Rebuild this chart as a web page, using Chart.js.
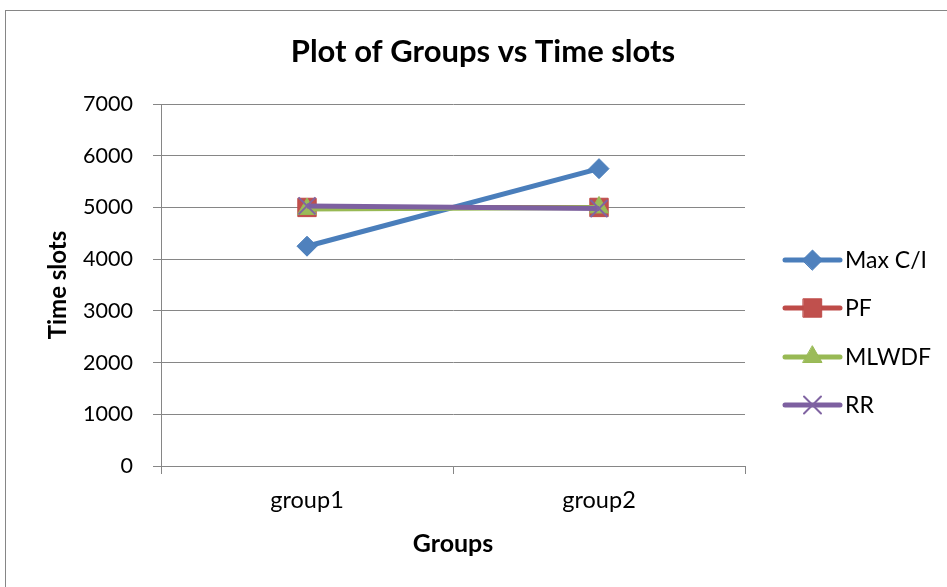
<!DOCTYPE html>
<html lang="en">
<head>
<meta charset="UTF-8">
<title>Plot of Groups vs Time slots</title>
<script src="https://cdn.jsdelivr.net/npm/chart.js"></script>
<style>
    body {
        margin: 0;
        background: #ffffff;
        overflow: hidden;
    }
    .frame {
        position: absolute;
        left: 5px;
        top: 10px;
        width: 1000px;
        height: 1000px;
        border-left: 1px solid #868686;
        border-top: 1px solid #868686;
    }
    #chart {
        position: absolute;
        left: 0;
        top: 0;
    }
</style>
</head>
<body>
<div class="frame"></div>
<canvas id="chart" width="947" height="587"></canvas>
<script>
    const groups = ['group1', 'group2'];
    const maxCI = [4250, 5750];
    const pf = [5000, 5000];
    const mlwdf = [4970, 5000];
    const rr = [5030, 4980];
    const yTicks = [0, 1000, 2000, 3000, 4000, 5000, 6000, 7000];

    const FONT = 'Lato, "Open Sans", sans-serif';

    const series = [
        { label: 'Max C/I', data: maxCI, line: '#4A7EBB', fill: '#4F81BD', style: 'rectRot', radius: 10, bw: 1 },
        { label: 'PF', data: pf, line: '#BE4B48', fill: '#C0504D', style: 'rect', radius: 13, bw: 1 },
        { label: 'MLWDF', data: mlwdf, line: '#98B954', fill: '#9BBB59', style: 'triangle', radius: 11, bw: 1 },
        { label: 'RR', data: rr, line: '#7D60A0', fill: '#8064A2', style: 'crossRot', radius: 12, bw: 2 }
    ];

    // chart heading, centred over the whole frame rather than the plot
    const heading = {
        id: 'heading',
        afterDraw(chart) {
            const ctx = chart.ctx;
            ctx.save();
            ctx.fillStyle = '#000';
            ctx.font = 'bold 31px ' + FONT;
            ctx.textAlign = 'center';
            ctx.textBaseline = 'middle';
            ctx.fillText('Plot of Groups vs Time slots', 483, 52);
            ctx.restore();
        }
    };

    // legend drawn by hand: line stub + marker + name, stacked on the right
    const sideLegend = {
        id: 'sideLegend',
        afterDraw(chart) {
            const ctx = chart.ctx;
            const x0 = 785, x1 = 840, ys = [260, 308, 357, 405];
            series.forEach((s, i) => {
                const y = ys[i];
                ctx.save();
                ctx.strokeStyle = s.line;
                ctx.lineWidth = 5;
                ctx.lineCap = 'round';
                ctx.beginPath();
                ctx.moveTo(x0, y);
                ctx.lineTo(x1, y);
                ctx.stroke();
                ctx.fillStyle = s.fill;
                ctx.strokeStyle = s.style === 'crossRot' ? s.fill : s.line;
                ctx.lineWidth = s.bw;
                Chart.helpers.drawPoint(ctx, {
                    pointStyle: s.style,
                    radius: s.radius,
                    borderWidth: s.bw,
                    rotation: 0
                }, (x0 + x1) / 2, y);
                ctx.fillStyle = '#000';
                ctx.font = '23px ' + FONT;
                ctx.textBaseline = 'middle';
                ctx.textAlign = 'left';
                ctx.fillText(s.label, 845, y + 1);
                ctx.restore();
            });
        }
    };

    new Chart(document.getElementById('chart').getContext('2d'), {
        type: 'line',
        data: {
            labels: groups,
            datasets: series.map((s, i) => ({
                label: s.label,
                data: s.data,
                borderColor: s.line,
                backgroundColor: s.fill,
                borderWidth: 5,
                pointStyle: s.style,
                pointRadius: s.radius,
                pointBorderWidth: s.bw,
                pointBorderColor: s.style === 'crossRot' ? s.fill : s.line,
                pointBackgroundColor: s.fill,
                tension: 0,
                order: series.length - i
            }))
        },
        options: {
            responsive: false,
            animation: false,
            layout: { padding: { left: 0, right: 202, top: 104, bottom: 0 } },
            plugins: {
                legend: { display: false },
                tooltip: { enabled: false },
                title: { display: false }
            },
            scales: {
                x: {
                    offset: true,
                    afterFit(scale) { scale.height = 121; },
                    grid: {
                        offset: true,
                        drawOnChartArea: false,
                        drawTicks: true,
                        tickLength: 8,
                        color: '#868686'
                    },
                    border: { color: '#868686', width: 1 },
                    ticks: {
                        color: '#000',
                        padding: 12,
                        font: { family: FONT, size: 23.5 }
                    },
                    title: {
                        display: true,
                        text: 'Groups',
                        color: '#000',
                        font: { family: FONT, size: 25, weight: 'bold' },
                        padding: { top: 0, bottom: 28 }
                    }
                },
                y: {
                    min: 0,
                    max: 7000,
                    afterFit(scale) { scale.width = 161; },
                    afterBuildTicks(scale) {
                        scale.ticks = yTicks.map(v => ({ value: v }));
                    },
                    grid: {
                        color: '#868686',
                        tickLength: 8
                    },
                    border: { color: '#868686', width: 1 },
                    ticks: {
                        color: '#000',
                        padding: 20,
                        font: { family: FONT, size: 21.5 },
                        callback: v => String(v)
                    },
                    title: {
                        display: true,
                        text: 'Time slots',
                        color: '#000',
                        font: { family: FONT, size: 24, weight: 'bold' },
                        padding: { top: 44, bottom: 0 }
                    }
                }
            }
        },
        plugins: [heading, sideLegend]
    });
</script>
</body>
</html>
